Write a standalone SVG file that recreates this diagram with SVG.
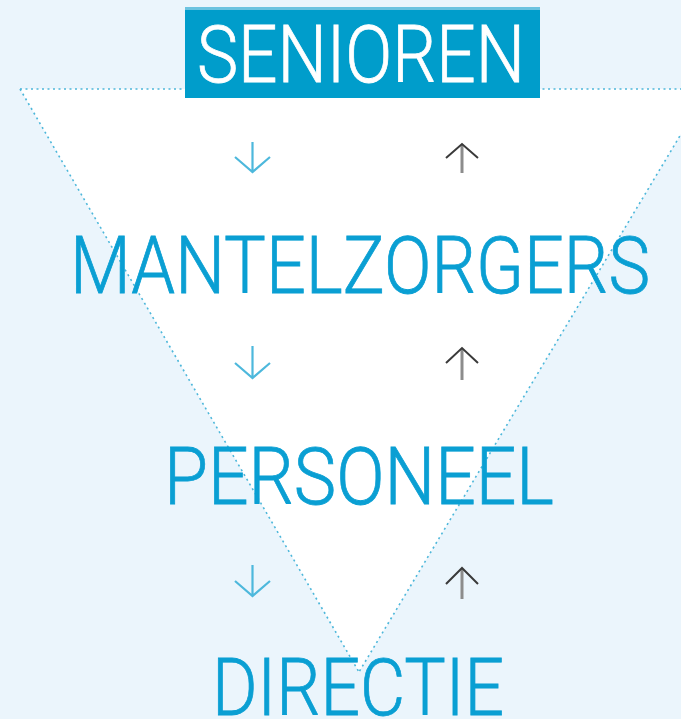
<svg xmlns="http://www.w3.org/2000/svg" width="681" height="719" viewBox="0 0 681 719">
  <style>
    .lbl { font-family: Roboto, "Liberation Sans", sans-serif; font-weight: 300; font-size: 79px; fill: #0A9FD3; stroke: #0A9FD3; stroke-width: 0.8; }
    .edge { stroke: #4DB7DA; stroke-width: 1.6; stroke-dasharray: 2 3.5; fill: none; }
    .down { stroke: #4DB8DC; stroke-width: 2.2; fill: none; stroke-linecap: butt; }
    .upShaft { stroke: #8C8C8C; stroke-width: 3; fill: none; }
    .upHead { stroke: #3A3A3A; stroke-width: 2; fill: none; }
  </style>
  <rect x="0" y="0" width="681" height="719" fill="#EBF5FC"/>
  <g id="triangle">
    <polygon points="20,89 708,89 359,672" fill="#FFFFFF"/>
    <line class="edge" x1="20" y1="89" x2="681" y2="89"/>
    <line class="edge" x1="20" y1="89" x2="359" y2="672"/>
    <line class="edge" x1="708" y1="89" x2="359" y2="672"/>
  </g>
  <g id="senioren">
    <rect x="185" y="8" width="355" height="90" fill="#009DCB"/>
    <rect x="185" y="7" width="355" height="3" fill="#6CC3E0"/>
    <text x="197" y="82" textLength="328" lengthAdjust="spacingAndGlyphs" class="lbl" style="fill:#FFFFFF;stroke:#FFFFFF">SENIOREN</text>
  </g>
  <g id="mantelzorgers">
    <text class="lbl" x="70" y="293" textLength="580" lengthAdjust="spacingAndGlyphs">MANTELZORGERS</text>
  </g>
  <g id="personeel">
    <text class="lbl" x="164" y="504" textLength="390" lengthAdjust="spacingAndGlyphs">PERSONEEL</text>
  </g>
  <g id="directie">
    <text class="lbl" x="212" y="715" textLength="292" lengthAdjust="spacingAndGlyphs">DIRECTIE</text>
  </g>
  <g id="connectors">
    <path class="down" d="M252.5,142 V172 M235,157 L252.5,172 L270,157"/>
    <path class="upShaft" d="M462,145 V173"/>
    <path class="upHead" d="M446,158 L462,144 L478,158"/>
    <path class="down" d="M252.5,346 V378 M235,363 L252.5,378 L270,363"/>
    <path class="upShaft" d="M462,349 V380"/>
    <path class="upHead" d="M446,363 L462,348 L478,363"/>
    <path class="down" d="M252.5,565 V596 M235,581 L252.5,596 L270,581"/>
    <path class="upShaft" d="M462,569 V599"/>
    <path class="upHead" d="M446,584 L462,568 L478,584"/>
  </g>
</svg>
